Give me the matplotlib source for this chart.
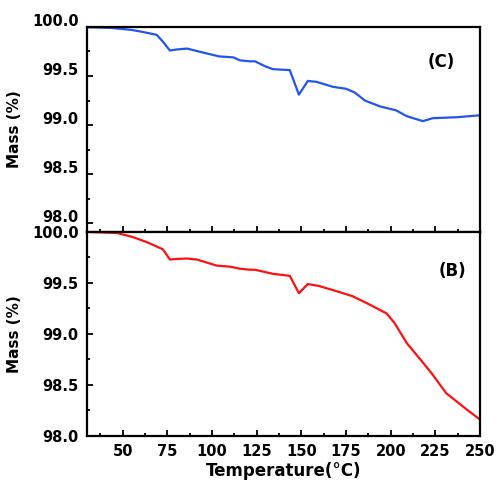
import matplotlib
matplotlib.use("Agg")
import matplotlib.pyplot as plt
from matplotlib.ticker import MultipleLocator
from matplotlib.transforms import ScaledTranslation

# Sample (C) - blue curve
temp_c = [30, 44, 55, 61, 69, 72.5, 76.4, 80, 86, 97, 104, 112, 115.6, 121, 124,
          129.6, 134, 143.5, 148.6, 153.6, 158.6, 167.6, 175, 180, 185.5, 194,
          203, 209, 218, 223.5, 237, 250]
mass_c = [99.997, 99.99, 99.97, 99.95, 99.92, 99.85, 99.76, 99.77, 99.78, 99.73,
          99.70, 99.69, 99.66, 99.65, 99.65, 99.60, 99.57, 99.56, 99.31, 99.45,
          99.44, 99.39, 99.37, 99.33, 99.25, 99.19, 99.15, 99.09, 99.04, 99.07,
          99.08, 99.10]

# Sample (B) - red curve
temp_b = [30, 46.8, 55.7, 63.6, 72.5, 76.4, 80, 86, 91.5, 102.7, 110, 115.6, 121,
          124, 134, 143.5, 148.6, 153.6, 160, 169.6, 178.7, 188, 197.8, 202, 209,
          218, 223.5, 231, 242.5, 250]
mass_b = [100.0, 99.99, 99.95, 99.90, 99.83, 99.73, 99.735, 99.74, 99.73, 99.67,
          99.66, 99.64, 99.63, 99.63, 99.59, 99.57, 99.40, 99.49, 99.47, 99.42,
          99.37, 99.29, 99.20, 99.11, 98.91, 98.72, 98.60, 98.42, 98.26, 98.16]

x_ticks = [50, 75, 100, 125, 150, 175, 200, 225, 250]
y_ticks = [98.0, 98.5, 99.0, 99.5, 100.0]

plt.rcParams["font.family"] = "DejaVu Sans"
plt.rcParams["font.weight"] = "bold"

fig = plt.figure(figsize=(4.97, 4.8), dpi=100)
ax_top = fig.add_axes([0.175, 0.5167, 0.791, 0.4271])
ax_bot = fig.add_axes([0.175, 0.0917, 0.791, 0.4250], sharex=ax_top)

ax_top.plot(temp_c, mass_c, color="#2255ee", lw=1.6)
ax_bot.plot(temp_b, mass_b, color="#ff1010", lw=1.6)

ax_top.set_ylim(97.91, 100.0)
ax_bot.set_ylim(98.0, 100.0)
ax_bot.set_xlim(30, 250)

for ax in (ax_top, ax_bot):
    ax.set_yticks(y_ticks)
    ax.set_xticks(x_ticks)
    ax.yaxis.set_minor_locator(MultipleLocator(0.25))
    ax.xaxis.set_minor_locator(MultipleLocator(12.5))
    ax.yaxis.set_major_formatter(matplotlib.ticker.FormatStrFormatter("%.1f"))
    ax.tick_params(which="both", direction="in", top=False, right=False,
                   labelsize=10.5, width=1.3, pad=6)
    ax.tick_params(which="major", length=4)
    ax.tick_params(which="minor", length=2.5)
    for s in ax.spines.values():
        s.set_linewidth(1.6)
    ax.set_ylabel("Mass (%)", fontsize=11, fontweight="bold", labelpad=7)
    for lbl in ax.get_yticklabels():
        lbl.set_fontweight("bold")
    for lbl in ax.get_xticklabels():
        lbl.set_fontweight("bold")

ax_top.tick_params(labelbottom=False)
# top panel tick labels sit a little above their ticks
for lbl in ax_top.get_yticklabels():
    lbl.set_transform(lbl.get_transform() + ScaledTranslation(0, 5 / 72, fig.dpi_scale_trans))

ax_top.text(0.90, 0.83, "(C)", transform=ax_top.transAxes, fontsize=12,
            fontweight="bold", ha="center", va="center")
ax_bot.text(0.93, 0.81, "(B)", transform=ax_bot.transAxes, fontsize=12,
            fontweight="bold", ha="center", va="center")

ax_bot.set_xlabel("Temperature(°C)", fontsize=12, fontweight="bold", labelpad=2)

fig.savefig("out.png", dpi=100)
